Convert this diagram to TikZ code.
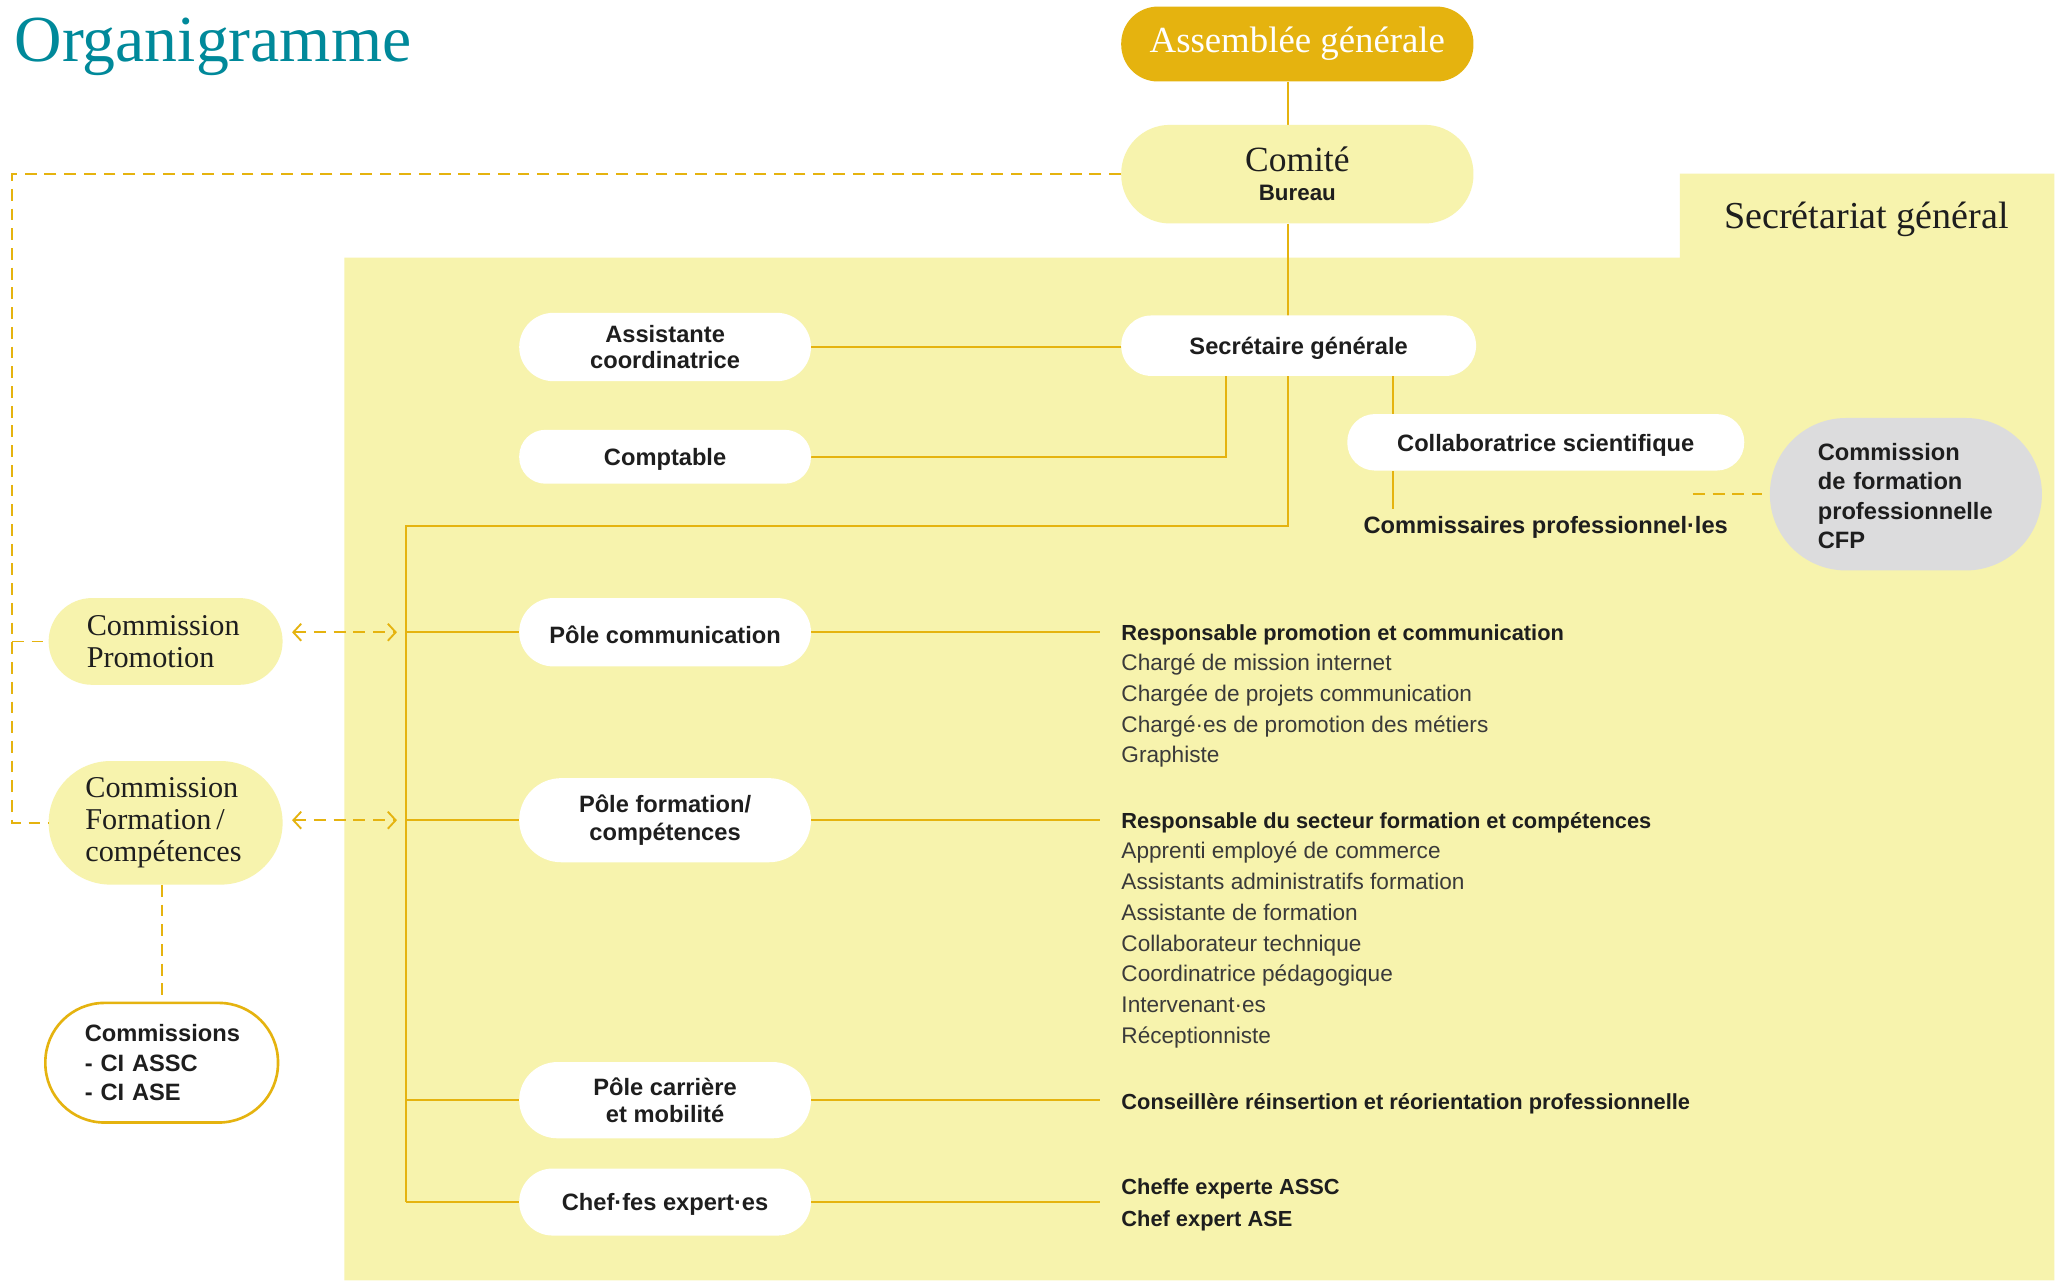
\documentclass[tikz,border=0pt]{standalone}
\usepackage{fontspec}
\setmainfont{Liberation Serif}
\newfontfamily\sansf{Liberation Sans}
\usetikzlibrary{shapes.misc,shapes.geometric,arrows.meta,calc}
\definecolor{gold}{HTML}{E5B30F}
\definecolor{lemon}{HTML}{F7F3AD}
\definecolor{titleteal}{HTML}{00899A}
\definecolor{cfpgray}{HTML}{DCDCDD}
\definecolor{ink}{HTML}{1E1E1E}
\definecolor{lightink}{HTML}{3A3A3A}
\pgfdeclarelayer{bgregion}
\pgfdeclarelayer{bglines}
\pgfsetlayers{bgregion,bglines,main}
\tikzset{
  pill/.style={rectangle, rounded corners=#1, inner sep=0pt, align=center, text=ink,
    font=\sansf\bfseries\fontsize{18}{21}\selectfont},
  wpill/.style={pill=#1, fill=white, execute at begin node={\rule{0pt}{17pt}}},
  cpill/.style={rectangle, rounded corners=#1, inner sep=0pt, fill=lemon, align=left, text=ink,
    font=\rmfamily\fontsize{23}{24.5}\selectfont},
  link/.style={draw=gold, line width=1.4pt},
  dashlink/.style={draw=gold, line width=1.4pt, dash pattern=on 9pt off 6pt},
  darrow/.style={dashlink, {Straight Barb[length=6pt,width=13pt]}-{Straight Barb[length=6pt,width=13pt]}},
  head/.style={anchor=base west, inner sep=0pt, text=ink, font=\sansf\bfseries\fontsize{16.6}{20}\selectfont},
  item/.style={anchor=base west, inner sep=0pt, text=lightink, font=\sansf\fontsize{17.2}{20}\selectfont},
}
\begin{document}
\begin{tikzpicture}[x=1pt,y=-1pt]
\useasboundingbox (0,0) rectangle (1568,974);
\begin{pgfonlayer}{bgregion}
\fill[white] (0,0) rectangle (1568,974);
\fill[lemon] (262,196) -- (1278,196) -- (1278,132) -- (1563,132) -- (1563,974) -- (262,974) -- cycle;
\end{pgfonlayer}

% titles
\node[anchor=base west, inner sep=0pt, text=titleteal, font=\fontsize{50}{50}\selectfont] (title) at (11,47) {Organigramme};
\node[anchor=base, inner sep=0pt, text=ink, font=\fontsize{29}{29}\selectfont] (sgtitle) at (1420,174) {Secrétariat général};

% top
\node[pill=28pt, fill=gold, minimum width=268pt, minimum height=57pt, text=white,
  font=\rmfamily\fontsize{28}{28}\selectfont] (ag) at (987,33.5) {Assemblée générale};
\node[pill=37pt, fill=lemon, minimum width=268pt, minimum height=75pt] (comite) at (987,132.5)
  {{\rmfamily\mdseries\fontsize{27}{27}\selectfont Comité}\\[1pt]{\fontsize{17}{17}\selectfont Bureau}};

% secretariat
\node[wpill=26pt, minimum width=222pt, minimum height=52pt] (asst) at (506,264) {Assistante\\[-1pt]coordinatrice};
\node[wpill=23pt, minimum width=270pt, minimum height=46pt] (sg) at (988,263) {Secrétaire générale};
\node[wpill=20pt, minimum width=222pt, minimum height=41pt] (compt) at (506,347.5) {Comptable};
\node[wpill=21pt, minimum width=302pt, minimum height=43pt] (collab) at (1176,336.5) {Collaboratrice scientifique};
\node[inner sep=0pt, text=ink, font=\sansf\bfseries\fontsize{18}{21}\selectfont] (commpro) at (1176,401) {Commissaires professionnel·les};
\node[pill=58pt, fill=cfpgray, minimum width=207pt, minimum height=116pt, text width=134pt, align=left,
  execute at begin node={\rule{0pt}{16pt}},
  font=\sansf\bfseries\fontsize{18}{22.3}\selectfont] (cfp) at (1450,376) {Commission\\de formation\\professionnelle\\CFP};

% poles
\node[wpill=26pt, minimum width=222pt, minimum height=52pt] (pcom) at (506,481) {Pôle communication};
\node[wpill=32pt, minimum width=222pt, minimum height=64pt] (pform) at (506,624) {Pôle formation/\\compétences};
\node[wpill=29pt, minimum width=222pt, minimum height=58pt] (pcar) at (506,837) {Pôle carrière\\et mobilité};
\node[wpill=25.5pt, minimum width=222pt, minimum height=51pt] (pchef) at (506,914.5) {Chef·fes expert·es};

% commissions
\node[cpill=33pt, minimum width=178pt, minimum height=66pt, text width=120pt] (cprom) at (126,488) {Commission\\Promotion};
\node[cpill=47pt, minimum width=178pt, minimum height=94pt, text width=122pt] (cform) at (126,626) {Commission\\Formation\,/\\compétences};
\node[rectangle, rounded corners=45pt, fill=white, draw=gold, line width=2pt, minimum width=177pt, minimum height=91pt,
  text width=117pt, align=left, inner sep=0pt, text=ink, font=\sansf\bfseries\fontsize{18}{22.5}\selectfont] (ci) at (123,808.5)
  {Commissions\\- CI ASSC\\- CI ASE};

% lists
\node[head] (h1) at (853,487) {Responsable promotion et communication};
\foreach \t [count=\i] in {Chargé de mission internet,Chargée de projets communication,Chargé·es de promotion des métiers,Graphiste}
  \node[item] (h1i\i) at (853,{487+23.3*\i}) {\t};
\node[head] (h2) at (853,630) {Responsable du secteur formation et compétences};
\foreach \t [count=\i] in {Apprenti employé de commerce,Assistants administratifs formation,Assistante de formation,Collaborateur technique,Coordinatrice pédagogique,Intervenant·es,Réceptionniste}
  \node[item] (h2i\i) at (853,{630+23.4*\i}) {\t};
\node[head] (h3) at (853,844) {Conseillère réinsertion et réorientation professionnelle};
\node[head] (h4) at (853,909) {Cheffe experte ASSC};
\node[head] (h4b) at (853,933) {Chef expert ASE};

% helper coordinates
\coordinate (vx) at (980,0);
\coordinate (jn) at (980,400);
\coordinate (tr) at (309,400);
\coordinate (kx) at (933,0);
\coordinate (cx) at (1060,0);
\coordinate (dl) at (9,0);
\coordinate (lend) at (837,0);
\coordinate (cfpd) at (1288,376);

\begin{pgfonlayer}{bglines}
\draw[link] (ag.south -| vx) -- (comite.north -| vx);
\draw[link] (comite.south -| vx) -- (jn) -- (tr) -- (tr |- pchef);
\draw[link] (asst.east) -- (asst.east -| sg.west);
\draw[link] (compt.east) -- (compt.east -| kx) -- (sg.south -| kx);
\draw[link] (sg.south -| cx) -- (collab.north -| cx);
\draw[link, shorten >=5pt] (collab.south -| cx) -- (commpro.north -| cx);
\foreach \p in {pcom,pform,pcar,pchef}{
  \draw[link] (tr |- \p) -- (\p.west);
  \draw[link] (\p.east) -- (\p.east -| lend);
}
\end{pgfonlayer}

\draw[dashlink] (comite.west) -- (comite.west -| dl) -- (dl |- cform.west) -- (cform.west);
\draw[dashlink] (dl |- cprom.west) -- (cprom.west);
\draw[darrow] ($(cprom.east |- pcom)+(7,0)$) -- ($(tr |- pcom)+(-7,0)$);
\draw[darrow] ($(cform.east |- pform)+(7,0)$) -- ($(tr |- pform)+(-7,0)$);
\draw[dashlink] (cform.south -| ci.north) -- (ci.north);
\draw[dashlink] (cfpd) -- ($(cfp.west)+(-6,0)$);
\end{tikzpicture}
\end{document}
